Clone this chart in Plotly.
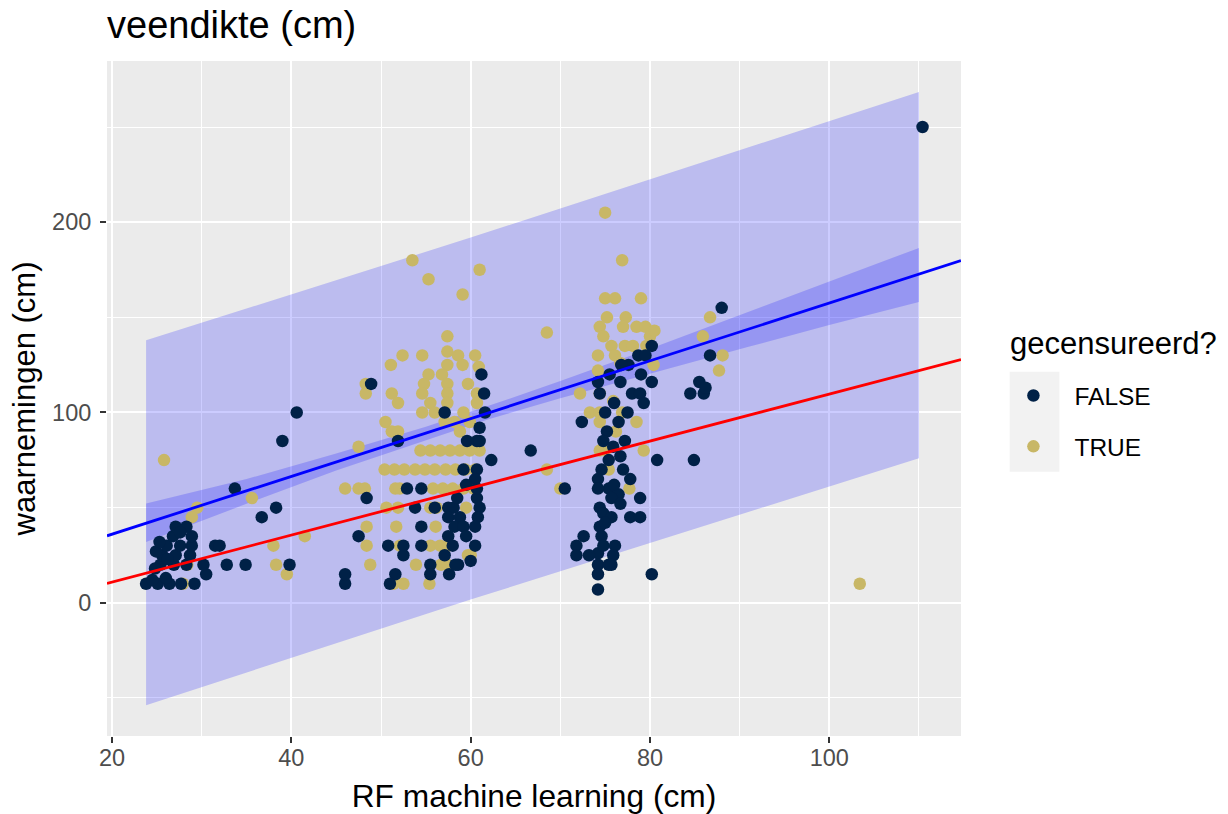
import plotly.graph_objects as go

# ---------------- data ----------------
false_x = [23.8, 25.1, 26.4, 27.7, 29.2, 24.5, 26.0, 30.5, 25.4, 26.9, 28.3, 30.2, 24.8,
           25.6, 27.1, 28.7, 24.9, 26.2, 26.1, 27.6, 28.9, 25.3, 28.9, 26.8, 27.1, 28.3, 27.6,
           31.5, 32.0, 32.8, 34.9, 39.8, 33.7, 36.7, 38.3, 39.0, 40.6,
           46.0, 46.0, 47.5, 48.4, 48.9, 51.9, 52.9, 54.5, 50.8, 52.5, 54.5, 52.5, 51.6, 51.0,
           53.8, 56.0, 57.5, 58.1, 57.5, 58.8, 58.2, 59.2, 57.5, 54.5, 57.1, 55.5, 58.6, 55.5, 57.6,
           59.2, 60.7, 59.6, 60.7, 62.3, 60.7, 57.1, 61.6, 61.2, 61.0, 61.0,
           60.5, 60.7, 61.0, 60.8, 60.5, 60.5, 60.0, 59.5, 58.5, 58.0, 59.5, 61.5, 58.3,
           74.2, 76.7, 80.2, 84.5, 86.0, 72.4, 75.2, 76.5, 77.2, 74.8, 75.9, 76.7, 74.6, 77.0,
           74.2, 75.4, 76.5, 74.2, 75.7, 78.9, 74.4, 76.7, 74.8, 75.7, 77.8, 78.9, 74.4, 74.6,
           72.6, 71.8, 71.8, 76.1, 74.2, 75.9, 74.2, 75.4, 74.2, 75.7, 74.2, 80.2, 80.8, 84.9,
           77.8, 70.5, 66.7, 88.0, 86.7, 85.5, 86.2, 78.7, 80.2, 79.5, 77.6, 74.4, 75.5, 76.0,
           75.0, 77.5, 78.0, 79.0, 76.8, 73.2, 74.8, 75.0, 76.0, 75.4, 78.9, 79.3,
           110.4]
false_y = [10, 10, 10, 10, 10, 12, 13, 15, 20, 20, 20, 20, 18,
           25, 25, 25, 27, 23, 30, 30, 30, 32, 35, 35, 40, 40, 37,
           30, 30, 20, 20, 20, 60, 45, 50, 85, 100,
           10, 15, 35, 55, 115, 85, 60, 60, 30, 30, 30, 25, 15, 10,
           50, 50, 50, 50, 45, 45, 40, 40, 35, 40, 25, 20, 20, 15, 15,
           70, 70, 85, 85, 75, 55, 100, 100, 120, 92, 85,
           65, 60, 50, 45, 40, 30, 22, 35, 55, 30, 62, 110, 20,
           116, 116, 116, 110, 110, 95, 90, 95, 85, 85, 82, 77, 70, 70,
           65, 60, 57, 60, 55, 55, 50, 52, 47, 45, 45, 45, 40, 35,
           35, 30, 25, 30, 26, 25, 20, 20, 15, 20, 7, 15, 75, 75,
           65, 60, 80, 155, 130, 116, 113, 130, 135, 130, 125, 110, 120, 105,
           100, 100, 110, 120, 125, 25, 30, 42, 62, 75, 110, 105,
           250]

true_x = [25.8, 35.6, 29.5, 28.9, 27.9, 28.4, 38.0, 38.3, 39.5, 41.5,
          53.5, 55.3, 61.0, 59.1, 57.4, 57.4, 52.4, 54.6, 58.6, 60.5, 51.1, 57.4, 59.1, 60.9,
          48.3, 48.3, 55.3, 56.8, 54.8, 57.4, 59.7, 51.2, 54.6, 57.4, 60.7, 51.9, 55.5, 57.4,
          60.7, 54.6, 56.0, 59.2, 50.5, 51.2, 51.9, 57.1, 58.2, 59.9, 58.8,
          47.5, 54.4, 55.5, 56.6, 57.7, 58.8, 59.9, 61.0,
          50.4, 51.5, 52.6, 53.8, 54.9, 56.0, 57.2, 58.3, 59.4, 60.5,
          46.0, 47.5, 48.2, 51.6, 52.1, 55.8, 56.9, 58.0, 59.2, 60.3,
          50.6, 51.9, 55.5, 56.2, 59.5, 48.4, 51.7, 56.1,
          48.4, 52.1, 55.5, 56.6, 57.5, 59.7, 48.8, 53.9, 56.7, 57.4,
          51.4, 52.5, 55.4, 60.0,
          75.0, 76.9, 75.0, 76.1, 79.0, 68.5, 75.2, 77.3, 74.4, 77.0, 78.5, 79.5, 74.8, 80.0,
          75.7, 77.2, 78.1, 79.6, 86.7, 85.9, 88.1, 87.7, 74.2, 76.1, 80.4, 74.2, 76.7,
          72.2, 74.4, 75.9, 73.3, 74.4, 76.9, 78.5, 74.4, 76.2, 79.3, 74.4, 75.0, 75.4, 77.7,
          68.5, 70.0, 80.5,
          103.4]
true_y = [75, 55, 50, 45, 10, 20, 30, 20, 15, 35,
          180, 170, 175, 162, 140, 132, 130, 130, 130, 130, 125, 125, 125, 124,
          115, 110, 120, 120, 115, 115, 115, 110, 110, 110, 110, 105, 105, 105,
          105, 100, 100, 100, 95, 90, 90, 95, 95, 95, 90,
          82, 80, 80, 80, 80, 80, 80, 80,
          70, 70, 70, 70, 70, 70, 70, 70, 70, 70,
          60, 60, 60, 60, 60, 60, 60, 60, 60, 60,
          50, 50, 50, 50, 50, 40, 40, 40,
          30, 30, 30, 30, 30, 25, 20, 20, 20, 20,
          10, 10, 10, 25,
          205, 180, 160, 160, 160, 142, 150, 150, 145, 145, 145, 145, 140, 140,
          135, 135, 135, 135, 150, 140, 130, 122, 130, 130, 125, 122, 126,
          110, 110, 106, 100, 100, 100, 95, 95, 90, 80, 80, 80, 70, 60,
          70, 60, 143,
          10]

# fitted lines (value at left and right edge of the x range)
line_x = [19.44, 114.69]
blue_y = [35.2, 179.8]
red_y = [10.2, 127.8]

# confidence band (darker ribbon)
conf_x = [23.8, 35, 45, 55, 62, 70, 80, 91, 100, 110]
conf_lo = [32.0, 52.0, 69.5, 85.5, 96.5, 107.5, 120.5, 134.5, 146.0, 158.0]
conf_hi = [52.2, 65.0, 78.5, 92.5, 103.5, 116.5, 133.5, 153.0, 169.0, 186.5]

# prediction band (light ribbon)
pred_x = [23.8, 60, 110]
pred_lo = [-53.8, 1.7, 76.0]
pred_hi = [137.9, 191.9, 268.4]

x_ticks = [20, 40, 60, 80, 100]
x_minor = [30, 50, 70, 90, 110]
y_ticks = [0, 100, 200]
y_minor = [-50, 50, 150, 250]

FALSE_COLOR = "#002147"
TRUE_COLOR = "#C8B766"

fig = go.Figure()

fig.add_trace(go.Scatter(
    x=pred_x + pred_x[::-1], y=pred_hi + pred_lo[::-1],
    fill="toself", fillcolor="rgba(0,0,255,0.2)", mode="lines",
    line=dict(width=0), hoverinfo="skip", showlegend=False))
fig.add_trace(go.Scatter(
    x=conf_x + conf_x[::-1], y=conf_hi + conf_lo[::-1],
    fill="toself", fillcolor="rgba(0,0,255,0.2)", mode="lines",
    line=dict(width=0), hoverinfo="skip", showlegend=False))

fig.add_trace(go.Scatter(
    x=true_x, y=true_y, mode="markers", name="TRUE",
    marker=dict(color=TRUE_COLOR, size=12.5, line=dict(width=0)),
    legendgroup="t", legendrank=2))
fig.add_trace(go.Scatter(
    x=false_x, y=false_y, mode="markers", name="FALSE",
    marker=dict(color=FALSE_COLOR, size=12.5, line=dict(width=0)),
    legendgroup="f", legendrank=1))

fig.add_trace(go.Scatter(x=line_x, y=red_y, mode="lines",
                         line=dict(color="#FF0000", width=2.8), showlegend=False))
fig.add_trace(go.Scatter(x=line_x, y=blue_y, mode="lines",
                         line=dict(color="#0000FF", width=2.8), showlegend=False))

axis_common = dict(
    showgrid=True, gridcolor="white", gridwidth=2.2, zeroline=False,
    ticks="outside", ticklen=6, tickwidth=2, tickcolor="#333333",
    tickfont=dict(size=23.5, color="#4D4D4D"), showline=False, automargin=False,
)

fig.update_xaxes(
    range=[19.44, 114.69], tickvals=x_ticks, ticktext=[str(v) for v in x_ticks],
    minor=dict(tickvals=x_minor, showgrid=True, gridcolor="white", gridwidth=1.1, ticks=""),
    title=dict(text="RF machine learning (cm)", font=dict(size=31.7, color="black"), standoff=15),
    ticklabelstandoff=-5,
    **axis_common)
fig.update_yaxes(
    range=[-70, 284.7], tickvals=y_ticks, ticktext=[str(v) for v in y_ticks],
    minor=dict(tickvals=y_minor, showgrid=True, gridcolor="white", gridwidth=1.1, ticks=""),
    title=dict(text="waarnemingen (cm)", font=dict(size=31, color="black"), standoff=7),
    ticklabelstandoff=4,
    **axis_common)

# grey background of the legend keys
fig.add_shape(type="rect", xref="paper", yref="paper",
              x0=1.057, x1=1.1152, y0=0.3914, y1=0.5395,
              fillcolor="#F2F2F2", line=dict(width=0), layer="below")

# legend title
fig.add_annotation(text="gecensureerd?", xref="paper", yref="paper",
                   x=1.0554, xanchor="left", y=0.5822, yanchor="middle",
                   showarrow=False, font=dict(size=31, color="black"))

fig.update_layout(
    width=1228, height=814,
    margin=dict(l=107, r=267, t=61, b=78),
    plot_bgcolor="#EBEBEB", paper_bgcolor="white",
    font=dict(family="Liberation Sans, Arial, sans-serif", color="black"),
    title=dict(text="veendikte (cm)", xref="container", x=107 / 1228, xanchor="left",
               yref="container", y=1 - 25 / 814, yanchor="middle",
               font=dict(size=38, color="black")),
    legend=dict(
        font=dict(size=24.5, color="black"),
        x=1.0368, xanchor="left", y=0.5377, yanchor="top",
        bgcolor="rgba(0,0,0,0)", tracegroupgap=16, itemwidth=72,
        traceorder="grouped"),
    showlegend=True,
)

fig.write_html("out.html", config={"displayModeBar": False},
               post_script="document.body.style.margin='0';document.body.style.overflow='hidden';")
